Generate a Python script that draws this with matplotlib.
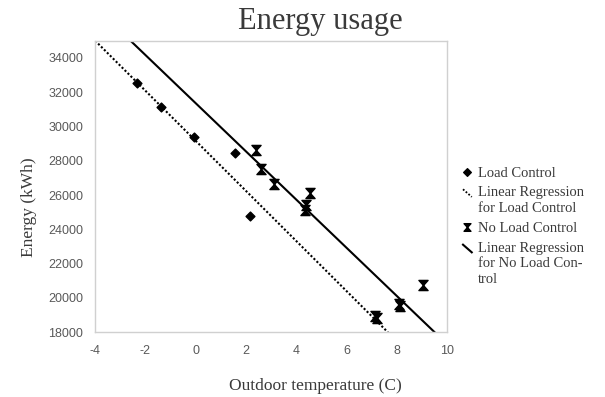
import numpy as np
import matplotlib.pyplot as plt
from matplotlib.path import Path
from matplotlib.lines import Line2D
from matplotlib.legend_handler import HandlerBase

plt.rcParams['axes.unicode_minus'] = False

# values
lc_temp = [-2.33, -1.37, -0.06, 1.57, 2.17]
lc_energy = [32540, 31140, 29390, 28450, 24770]

nlc_temp = [2.40, 2.59, 3.12, 4.55, 4.39, 4.35, 9.06, 8.10, 8.15, 7.15, 7.20]
nlc_energy = [28630, 27520, 26620, 26120, 25430, 25140, 20750, 19650, 19520, 18960, 18860]

# regression lines as drawn (slope, intercept)
lc_fit = (-1460, 29170)
nlc_fit = (-1405, 31363)

x_ticks = [-4, -2, 0, 2, 4, 6, 8, 10]
y_ticks = [18000, 20000, 22000, 24000, 26000, 28000, 30000, 32000, 34000]

legend_labels = ["Load Control",
                 "Linear Regression\nfor Load Control",
                 "No Load Control",
                 "Linear Regression\nfor No Load Con-\ntrol"]

serif = "Liberation Serif"
sans = "Liberation Sans"
grey_txt = "#595959"
frame_col = "#d0d0d0"
text_col = "#3a3a3a"

M, L, C = Path.MOVETO, Path.LINETO, Path.CLOSEPOLY
diamond = Path([(0, 1), (1, 0), (0, -1), (-1, 0), (0, 1)], [M, L, L, L, C])
hourglass = Path([(-0.9, 1), (0.9, 1), (0, 0), (-0.9, 1),
                  (-0.9, -1), (0.9, -1), (0, 0), (-0.9, -1)],
                 [M, L, L, C, M, L, L, C])

LINE_STEP = 11.2   # pt between lines inside one legend entry


class Lifted(HandlerBase):
    """legend symbol placed next to the first line of a multi-line label"""
    def __init__(self, nlines=1, slant=False):
        super().__init__()
        self.lift = (nlines - 1) / 2 * LINE_STEP
        self.slant = slant

    def create_artists(self, legend, orig_handle, xdescent, ydescent,
                       width, height, fontsize, trans):
        x0, y0 = -xdescent, -ydescent + self.lift
        if self.slant:
            art = Line2D([x0, x0 + width], [y0 + 0.85 * height, y0 + 0.1 * height])
        else:
            art = Line2D([x0 + width / 2], [y0 + height / 2])
        art.update_from(orig_handle)
        art.set_transform(trans)
        return [art]


fig = plt.figure(figsize=(6.05, 3.97), dpi=100)
ax = fig.add_axes([95 / 605, 1 - 332.3 / 397, 352 / 605, 291.6 / 397])

ax.scatter(lc_temp, lc_energy, marker=diamond, s=8.8 ** 2 * 0.52, color='black', zorder=3)
ax.scatter(nlc_temp, nlc_energy, marker=hourglass, s=7.3 ** 2, color='black', zorder=3)
ax.axline((0, lc_fit[1]), slope=lc_fit[0], color='black', lw=1.5, ls=(0, (1, 1)))
ax.axline((0, nlc_fit[1]), slope=nlc_fit[0], color='black', lw=1.5)

ax.set_xlim(-4, 10)
ax.set_ylim(18000, 35000)
ax.set_xticks(x_ticks)
ax.set_yticks(y_ticks)
ax.tick_params(length=0, labelsize=9, labelcolor=grey_txt)
ax.tick_params(axis='y', pad=8.5)
ax.tick_params(axis='x', pad=9)
for lab in ax.get_xticklabels() + ax.get_yticklabels():
    lab.set_fontfamily(sans)
for sp in ax.spines.values():
    sp.set_color(frame_col)
    sp.set_linewidth(1)

fig.text(320 / 605, 1 - 29.3 / 397, "Energy usage", family=serif, size=22,
         color=text_col, ha='center', va='baseline')
fig.text(315.5 / 605, 1 - 390 / 397, "Outdoor temperature (C)", family=serif,
         size=12.5, color=text_col, ha='center', va='baseline')
fig.text(29 / 605, 1 - 207 / 397, "Energy (kWh)", family=serif, size=12.5,
         color=text_col, rotation=90, ha='center', va='center')

h_lc = Line2D([], [], ls='none', marker=diamond, ms=5.5, color='black')
h_lc_fit = Line2D([], [], ls=(0, (1, 1)), lw=1.3, color='black')
h_nlc = Line2D([], [], ls='none', marker=hourglass, ms=5.5, color='black')
h_nlc_fit = Line2D([], [], lw=1.5, color='black')
handles = [h_lc, h_lc_fit, h_nlc, h_nlc_fit]
hmap = {h_lc: Lifted(1), h_lc_fit: Lifted(2, True),
        h_nlc: Lifted(1), h_nlc_fit: Lifted(3, True)}

leg = fig.legend(handles, legend_labels, handler_map=hmap, loc='upper left',
                 bbox_to_anchor=(463 / 605, 1 - 166.5 / 397), frameon=False,
                 borderpad=0, borderaxespad=0, handlelength=0.6, handleheight=0.7,
                 handletextpad=0.43, labelspacing=0.45,
                 prop={'family': serif, 'size': 10.5})
for t in leg.get_texts():
    t.set_color(text_col)
    t.set_linespacing(1.29)

fig.savefig('out.png', dpi=100)
